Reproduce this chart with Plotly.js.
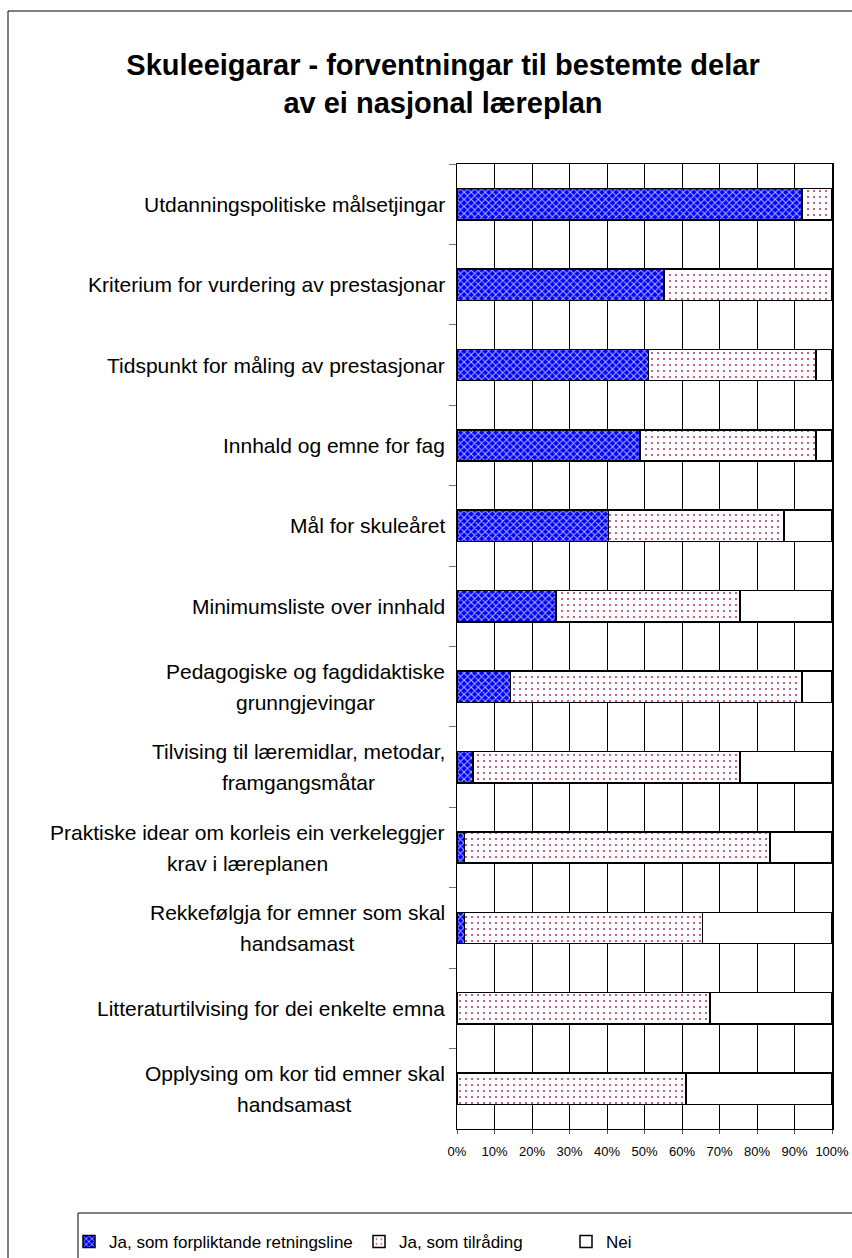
<!DOCTYPE html>
<html>
<head>
<meta charset="utf-8">
<script src="https://cdn.plot.ly/plotly-3.0.1.min.js"></script>
<style>
  html, body { margin: 0; padding: 0; background: #ffffff; }
  #chart { width: 852px; height: 1258px; }
</style>
</head>
<body>
<div id="chart"></div>
<script>
// ---- data ----
const categories = [
  "Utdanningspolitiske målsetjingar",
  "Kriterium for vurdering av prestasjonar",
  "Tidspunkt for måling av prestasjonar",
  "Innhald og emne for fag",
  "Mål for skuleåret",
  "Minimumsliste over innhald",
  "Pedagogiske og fagdidaktiske<br>grunngjevingar",
  "Tilvising til læremidlar, metodar,<br>framgangsmåtar",
  "Praktiske idear om korleis ein verkeleggjer<br>krav i læreplanen",
  "Rekkefølgja for emner som skal<br>handsamast",
  "Litteraturtilvising for dei enkelte emna",
  "Opplysing om kor tid emner skal<br>handsamast"
];
const seriesNames = ["Ja, som forpliktande retningsline", "Ja, som tilråding", "Nei"];
const jaForpliktande = [92.0, 55.2, 51.0, 48.8, 40.4, 26.4, 14.2, 4.2, 2.0, 2.0, 0.0, 0.0];
const jaTilraading   = [ 8.0, 44.8, 44.7, 46.9, 46.8, 49.1, 77.8, 71.3, 81.5, 63.4, 67.4, 61.0];
const nei            = [ 0.0,  0.0,  4.3,  4.3, 12.8, 24.5,  8.0, 24.5, 16.5, 34.6, 32.6, 39.0];
const xTickVals = [0, 10, 20, 30, 40, 50, 60, 70, 80, 90, 100];
const xTickText = ["0%", "10%", "20%", "30%", "40%", "50%", "60%", "70%", "80%", "90%", "100%"];
const titleText = "Skuleeigarar - forventningar til bestemte delar<br>av ei nasjonal læreplan";

// ---- layout geometry ----
const W = 852, H = 1258;
const M = { l: 457, r: 20, t: 164, b: 129, autoexpand: false };
const plotW = W - M.l - M.r, plotH = H - M.t - M.b;
const px2x = p => (p - M.l) / plotW;          // pixel -> paper x
const py2y = p => (H - M.b - p) / plotH;      // pixel -> paper y

const FONT = "Liberation Sans, Arial, sans-serif";
const LABEL_SIZE = 21;
const LINE_GAP = 31;
const lineStyle = { color: "#000000", width: 1.5 };

const traces = [
  {
    type: "bar", orientation: "h", name: seriesNames[0], legend: "legend",
    y: categories, x: jaForpliktande,
    marker: {
      color: "#0000ff",
      line: lineStyle,
      pattern: { shape: "x", bgcolor: "#0000ff", fgcolor: "#b4b8ff", size: 5, solidity: 0.35 }
    },
    hoverinfo: "x+y"
  },
  {
    type: "bar", orientation: "h", name: seriesNames[1], legend: "legend2",
    y: categories, x: jaTilraading,
    marker: {
      color: "#ffffff",
      line: lineStyle,
      pattern: { shape: ".", bgcolor: "#ffffff", fgcolor: "#b03c78", size: 6, solidity: 0.1 }
    },
    hoverinfo: "x+y"
  },
  {
    type: "bar", orientation: "h", name: seriesNames[2], legend: "legend3",
    y: categories, x: nei,
    marker: { color: "#ffffff", line: lineStyle },
    hoverinfo: "x+y"
  }
];

// category labels: one annotation per text line, lines centred on each other
const ctx = document.createElement("canvas").getContext("2d");
ctx.font = LABEL_SIZE + "px 'Liberation Sans'";
const annotations = [];
categories.forEach(c => {
  const lines = c.split("<br>");
  const widths = lines.map(t => ctx.measureText(t).width);
  const blockW = Math.max.apply(null, widths);
  lines.forEach((t, i) => {
    annotations.push({
      text: t, xref: "paper", x: 0, xanchor: "right",
      xshift: -10 - (blockW - widths[i]) / 2,
      yref: "y", y: c, yanchor: "middle",
      yshift: -((i - (lines.length - 1) / 2) * LINE_GAP),
      showarrow: false,
      font: { family: FONT, size: LABEL_SIZE, color: "#000000" }
    });
  });
});

const legendAt = leftPx => ({
  orientation: "h",
  xref: "paper", x: px2x(leftPx), xanchor: "left",
  yref: "paper", y: py2y(1242), yanchor: "middle",
  font: { family: FONT, size: 17, color: "#000000" },
  bgcolor: "rgba(0,0,0,0)", borderwidth: 0
});

const layout = {
  width: W, height: H,
  margin: M,
  paper_bgcolor: "#ffffff", plot_bgcolor: "#ffffff",
  barmode: "stack",
  bargap: 0.61,
  showlegend: true,
  title: {
    text: titleText,
    font: { family: FONT, size: 29, color: "#000000", weight: "bold" },
    x: 443 / W, xanchor: "center", xref: "container",
    y: 1 - 75 / H, yanchor: "middle", yref: "container"
  },
  xaxis: {
    range: [0, 100], tickvals: xTickVals, ticktext: xTickText,
    showgrid: true, gridcolor: "#000000", gridwidth: 1,
    zeroline: false,
    showline: true, linecolor: "#000000", linewidth: 1, mirror: true,
    ticks: "outside", ticklen: 4, tickcolor: "#555555",
    ticklabelstandoff: 6,
    tickfont: { family: FONT, size: 13, color: "#000000" },
    fixedrange: true
  },
  yaxis: {
    type: "category", autorange: "reversed",
    showticklabels: false,
    ticks: "outside", tickson: "boundaries", ticklen: 7, tickcolor: "#777777",
    showgrid: false, zeroline: false,
    showline: true, linecolor: "#000000", linewidth: 1.5, mirror: true,
    fixedrange: true
  },
  legend: legendAt(69),
  legend2: legendAt(359),
  legend3: legendAt(566),
  annotations: annotations,
  shapes: [
    // outer chart frame (cut off at right and bottom like the reference)
    { type: "rect", xref: "paper", yref: "paper",
      x0: px2x(8), x1: px2x(W + 20), y0: py2y(H + 20), y1: py2y(11),
      line: { color: "#000000", width: 1 }, fillcolor: "rgba(0,0,0,0)", layer: "below" },
    // legend frame
    { type: "rect", xref: "paper", yref: "paper",
      x0: px2x(78), x1: px2x(W + 20), y0: py2y(H + 20), y1: py2y(1213),
      line: { color: "#000000", width: 1 }, fillcolor: "rgba(0,0,0,0)", layer: "below" }
  ]
};

Plotly.newPlot("chart", traces, layout, { displayModeBar: false, staticPlot: true });
</script>
</body>
</html>
